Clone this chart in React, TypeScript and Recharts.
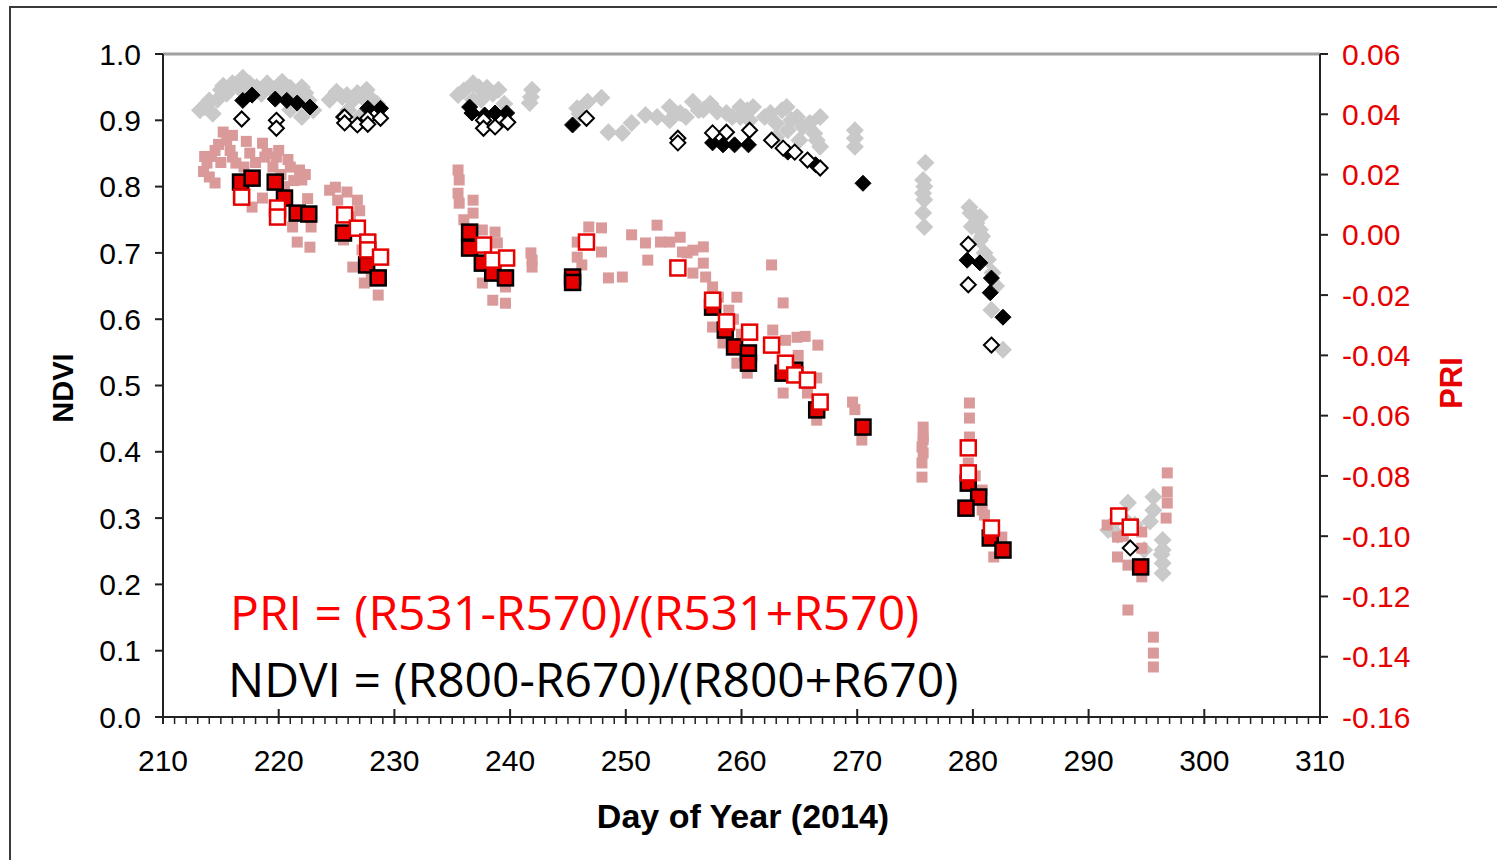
import React from 'react';
import { ScatterChart, Scatter, XAxis, YAxis, ReferenceLine } from 'recharts';

// [day of year, NDVI]
const ndviAll: [number, number][] = [
  [213.2, 0.915], [213.6, 0.92], [214.0, 0.93], [214.3, 0.91], [214.7, 0.931], [215.0, 0.946], [215.5, 0.94],
  [216.0, 0.956], [216.5, 0.95], [216.9, 0.964], [217.5, 0.955], [218.1, 0.95], [218.5, 0.94], [219.0, 0.956],
  [219.5, 0.945], [220.0, 0.953], [220.5, 0.94], [221.0, 0.949], [221.5, 0.935], [222.0, 0.95], [222.3, 0.941],
  [221.0, 0.916], [222.0, 0.905], [213.8, 0.925], [215.2, 0.952], [217.0, 0.945], [218.8, 0.948], [220.3, 0.958],
  [221.8, 0.945], [222.6, 0.93], [223.0, 0.915],
  [224.4, 0.931], [225.0, 0.943], [225.5, 0.935], [225.9, 0.938], [226.4, 0.93], [226.8, 0.941], [227.2, 0.935],
  [227.6, 0.946], [228.0, 0.932], [228.5, 0.925], [226.0, 0.915], [227.0, 0.905],
  [235.5, 0.938], [236.0, 0.945], [236.8, 0.956], [237.3, 0.95], [238.0, 0.949], [238.5, 0.94], [239.0, 0.946],
  [237.5, 0.931], [236.8, 0.931], [239.5, 0.925], [241.7, 0.926], [241.8, 0.935], [241.9, 0.946],
  [245.8, 0.918], [246.7, 0.928], [247.9, 0.934], [246.0, 0.91],
  [248.5, 0.882], [249.7, 0.881], [250.5, 0.896], [251.7, 0.908], [252.7, 0.905], [253.8, 0.92], [253.8, 0.9],
  [254.7, 0.911], [255.2, 0.905], [255.8, 0.928], [256.3, 0.915], [256.7, 0.916], [257.3, 0.925], [257.9, 0.913],
  [258.7, 0.911], [259.2, 0.905], [259.9, 0.92], [259.9, 0.905], [260.5, 0.915], [260.7, 0.9], [261.0, 0.92],
  [262.0, 0.905], [262.5, 0.911], [263.0, 0.895], [263.5, 0.915], [263.9, 0.92], [264.3, 0.9], [264.8, 0.905],
  [265.3, 0.89], [265.9, 0.896], [266.3, 0.88], [266.8, 0.905], [266.8, 0.86], [265.0, 0.87], [264.0, 0.885],
  [263.0, 0.875], [266.5, 0.87],
  [269.8, 0.885], [269.8, 0.873], [269.8, 0.86],
  [275.9, 0.836], [275.7, 0.81], [275.8, 0.8], [275.7, 0.79], [275.8, 0.78], [275.7, 0.76], [275.8, 0.739],
  [279.7, 0.769], [279.8, 0.76], [280.2, 0.755], [280.6, 0.754], [280.3, 0.745], [280.6, 0.735], [280.8, 0.725],
  [280.6, 0.719], [279.9, 0.74], [281.0, 0.7], [281.7, 0.67], [281.6, 0.614], [282.6, 0.554], [281.3, 0.69], [282.0, 0.65],
  [291.7, 0.282], [292.0, 0.29], [292.5, 0.275], [293.4, 0.323], [293.0, 0.3], [294.0, 0.29], [295.6, 0.332],
  [295.6, 0.312], [295.3, 0.295], [294.8, 0.252], [296.4, 0.267], [296.4, 0.252], [296.4, 0.232], [296.4, 0.217], [296.3, 0.245],
];

const ndviFilled: [number, number][] = [
  [216.9, 0.93], [217.7, 0.938], [219.7, 0.932], [220.7, 0.93], [221.6, 0.926], [222.7, 0.92], [225.6, 0.905],
  [227.7, 0.918], [228.8, 0.918], [236.5, 0.92], [236.7, 0.911], [237.8, 0.908], [238.7, 0.911], [239.7, 0.911],
  [245.4, 0.893], [257.5, 0.866], [258.4, 0.863], [259.4, 0.863], [260.6, 0.863], [264.0, 0.852], [266.4, 0.833],
  [270.5, 0.805], [279.5, 0.689], [280.6, 0.685], [281.6, 0.662], [281.5, 0.64], [282.6, 0.603],
];

const ndviOpen: [number, number][] = [
  [216.8, 0.902], [219.8, 0.9], [219.8, 0.888], [225.7, 0.905], [225.7, 0.896], [226.8, 0.893], [227.7, 0.903],
  [227.7, 0.894], [228.8, 0.903], [237.7, 0.9], [237.7, 0.888], [238.7, 0.89], [239.8, 0.897], [246.6, 0.903],
  [254.5, 0.873], [254.5, 0.866], [257.5, 0.881], [258.7, 0.882], [260.7, 0.885], [262.6, 0.87], [263.6, 0.858],
  [264.6, 0.852], [265.7, 0.84], [266.8, 0.828], [279.6, 0.713], [279.6, 0.652], [281.6, 0.561], [293.6, 0.255],
];

// [day of year, PRI]
const priAll: [number, number][] = [
  [213.5, 0.021], [213.8, 0.0238], [214.0, 0.0192], [214.5, 0.0172], [214.2, 0.026], [214.8, 0.03], [215.2, 0.0341],
  [215.5, 0.0314], [215.8, 0.028], [216.0, 0.0258], [216.3, 0.0238], [216.5, 0.0122], [217.0, 0.0225], [217.5, 0.0271],
  [217.7, 0.0092], [218.0, 0.024], [218.6, 0.0304], [218.8, 0.0258], [218.6, 0.0122], [219.5, 0.0225], [219.8, 0.0258],
  [220.2, 0.02], [221.0, 0.0225], [221.3, 0.018], [221.8, 0.0215], [222.0, 0.0182], [221.2, 0.0026], [221.6, -0.0024],
  [222.7, -0.0041], [222.8, 0.0026], [220.5, 0.016], [213.6, 0.026], [214.5, 0.028], [215.0, 0.024], [216.0, 0.033],
  [217.2, 0.031], [219.0, 0.027], [220.0, 0.028], [220.8, 0.025], [222.5, 0.012], [222.3, 0.02], [217.0, 0.016],
  [224.4, 0.0148], [224.9, 0.0158], [225.9, 0.0142], [226.8, 0.0115], [225.1, 0.0115], [225.6, -0.0017], [226.2, 0.006],
  [226.4, -0.0107], [227.2, -0.005], [227.4, -0.016], [228.0, -0.0134], [228.6, -0.02], [227.0, 0.008],
  [235.5, 0.0215], [235.6, 0.0182], [235.5, 0.0138], [235.6, 0.0105], [236.8, 0.0115], [236.8, 0.0072], [237.6, 0.0016],
  [238.7, 0.0009], [238.9, -0.0027], [237.6, -0.0084], [237.6, -0.016], [238.5, -0.0217], [239.6, -0.0227], [239.6, -0.0173],
  [236.0, 0.005], [241.9, -0.0084], [241.9, -0.0107], [241.8, -0.006],
  [245.8, -0.0024], [245.8, -0.0074], [246.8, 0.0026], [247.9, 0.0023], [247.9, -0.0057], [248.5, -0.0143], [249.7, -0.014], [246.2, -0.01],
  [250.5, 0.0], [251.7, -0.0027], [251.9, -0.0084], [252.7, 0.0032], [253.0, -0.0024], [253.8, -0.0024], [254.7, -0.0008],
  [254.9, -0.0057], [255.3, -0.006], [255.8, -0.0051], [256.7, -0.004], [256.7, -0.0094], [255.8, -0.0127], [256.9, -0.014],
  [257.5, -0.0173], [258.0, -0.0207], [257.5, -0.0306], [258.4, -0.0359], [259.6, -0.0207], [259.3, -0.028], [259.6, -0.0426],
  [260.5, -0.0459], [258.9, -0.025], [260.0, -0.033],
  [262.6, -0.01], [263.6, -0.0226], [262.7, -0.0316], [263.8, -0.035], [264.8, -0.034], [265.5, -0.0337], [266.6, -0.0366],
  [263.6, -0.0525], [264.5, -0.046], [265.7, -0.0525], [266.5, -0.0475], [266.5, -0.0615], [264.9, -0.04],
  [269.6, -0.0555], [269.8, -0.058], [270.4, -0.0681],
  [275.7, -0.0638], [275.7, -0.067], [275.6, -0.0704], [275.7, -0.0724], [275.6, -0.0757], [275.6, -0.0804], [275.7, -0.068],
  [279.7, -0.0558], [279.7, -0.0608], [279.7, -0.0671], [279.6, -0.0757], [280.8, -0.0847], [280.8, -0.0913],
  [282.5, -0.1003], [281.8, -0.1069], [281.0, -0.093], [280.2, -0.08],
  [291.6, -0.0963], [292.5, -0.1003], [292.5, -0.1069], [293.4, -0.1096], [294.6, -0.0986], [294.6, -0.104], [294.6, -0.1135],
  [293.4, -0.1245], [295.6, -0.1335], [295.6, -0.1388], [295.6, -0.1434], [296.8, -0.079], [296.8, -0.0853], [296.7, -0.094],
  [296.8, -0.089], [293.0, -0.1],
];

const priFilled: [number, number][] = [
  [216.7, 0.0175], [217.7, 0.0188], [219.7, 0.0175], [220.5, 0.0122], [221.6, 0.0072], [222.6, 0.0069], [225.6, 0.0006],
  [227.6, -0.01], [228.6, -0.0143], [236.5, 0.0009], [236.5, -0.0044], [237.6, -0.0094], [238.5, -0.0127], [239.6, -0.0143],
  [245.4, -0.014], [245.4, -0.0158], [257.5, -0.024], [258.6, -0.0316], [259.4, -0.0372], [260.6, -0.0392], [260.6, -0.0426],
  [263.6, -0.0459], [264.6, -0.0449], [266.5, -0.0581], [270.5, -0.0638], [279.6, -0.0824], [280.5, -0.087], [279.4, -0.0907],
  [281.5, -0.1006], [282.6, -0.1046], [294.5, -0.1102],
];

const priOpen: [number, number][] = [
  [216.8, 0.0125], [219.9, 0.0089], [219.9, 0.0059], [225.7, 0.0066], [226.8, 0.0022], [227.7, -0.0024], [227.7, -0.005],
  [228.8, -0.0074], [237.7, -0.0034], [238.5, -0.0084], [239.7, -0.0077], [246.6, -0.0024], [254.5, -0.011], [257.5, -0.0217],
  [258.7, -0.0289], [260.7, -0.0323], [262.6, -0.0366], [263.8, -0.0426], [264.6, -0.0465], [265.7, -0.0482], [266.8, -0.0555],
  [279.6, -0.0707], [279.6, -0.079], [281.6, -0.0973], [292.6, -0.0933], [293.6, -0.097],
];

const xAll = Array.from({ length: 101 }, (_, i) => 210 + i);
const ndviTicks = [0, 0.1, 0.2, 0.3, 0.4, 0.5, 0.6, 0.7, 0.8, 0.9, 1.0];
const priTicks = [-0.16, -0.14, -0.12, -0.1, -0.08, -0.06, -0.04, -0.02, 0, 0.02, 0.04, 0.06];

const toPts = (arr: [number, number][]) => arr.map(([x, y]) => ({ x, y }));

const FONT = '"Liberation Sans", Arial, sans-serif';

const diamond = (fill: string, stroke: string, r: number, sw: number) => (p: any) => (
  <polygon
    points={`${p.cx},${p.cy - r} ${p.cx + r},${p.cy} ${p.cx},${p.cy + r} ${p.cx - r},${p.cy}`}
    fill={fill}
    stroke={stroke}
    strokeWidth={sw}
  />
);

const square = (fill: string, stroke: string, s: number, sw: number) => (p: any) => (
  <rect x={p.cx - s / 2} y={p.cy - s / 2} width={s} height={s} fill={fill} stroke={stroke} strokeWidth={sw} />
);

const XTick = (props: any) => {
  const { x, y, payload } = props;
  const v = payload.value;
  const major = v % 10 === 0;
  return (
    <g>
      <line x1={x} x2={x} y1={major ? y - 8 : y} y2={y + 7} stroke="#222" strokeWidth={major ? 2 : 1.5} />
      {major && (
        <text x={x} y={y + 54} textAnchor="middle" fontFamily={FONT} fontSize={30} fill="#000">
          {v}
        </text>
      )}
    </g>
  );
};

export default function App() {
  return (
    <div style={{ position: 'absolute', left: 0, top: 0, width: 1497, height: 860, overflow: 'hidden', background: '#fff' }}>
      <div style={{ position: 'absolute', left: 9, top: 6, width: 1600, height: 1000, border: '2px solid #3a3a3a' }} />
      <ScatterChart width={1497} height={860} margin={{ top: 54, right: 57, bottom: 63, left: 63 }}>
        <XAxis
          type="number"
          dataKey="x"
          domain={[210, 310]}
          ticks={xAll}
          interval={0}
          tickSize={0}
          tickMargin={0}
          tickLine={false}
          height={80}
          tick={<XTick />}
          axisLine={{ stroke: '#222', strokeWidth: 2 }}
          allowDataOverflow
        />
        <YAxis
          yAxisId="ndvi"
          type="number"
          dataKey="y"
          domain={[0, 1]}
          ticks={ndviTicks}
          interval={0}
          width={100}
          tickSize={8}
          tickMargin={14}
          tickFormatter={(v: number) => v.toFixed(1)}
          tick={{ fontFamily: FONT, fontSize: 30, fill: '#000' }}
          tickLine={{ stroke: '#222', strokeWidth: 2 }}
          axisLine={{ stroke: '#222', strokeWidth: 2 }}
          allowDataOverflow
        />
        <YAxis
          yAxisId="pri"
          orientation="right"
          type="number"
          dataKey="y"
          domain={[-0.16, 0.06]}
          ticks={priTicks}
          interval={0}
          width={120}
          tickSize={8}
          tickMargin={14}
          tickFormatter={(v: number) => v.toFixed(2)}
          tick={{ fontFamily: FONT, fontSize: 30, fill: '#e60000' }}
          tickLine={{ stroke: '#222', strokeWidth: 2 }}
          axisLine={{ stroke: '#222', strokeWidth: 2 }}
          allowDataOverflow
        />
        <ReferenceLine yAxisId="ndvi" y={1} stroke="#a0a0a0" strokeWidth={3} />
        <Scatter yAxisId="ndvi" data={toPts(ndviAll)} shape={diamond('#c9c9c9', 'none', 9, 0)} isAnimationActive={false} />
        <Scatter yAxisId="pri" data={toPts(priAll)} shape={square('#da9a9a', 'none', 11, 0)} isAnimationActive={false} />
        <Scatter yAxisId="ndvi" data={toPts(ndviFilled)} shape={diamond('#000', '#000', 8, 1)} isAnimationActive={false} />
        <Scatter yAxisId="ndvi" data={toPts(ndviOpen)} shape={diamond('#fff', '#000', 7.5, 2)} isAnimationActive={false} />
        <Scatter yAxisId="pri" data={toPts(priFilled)} shape={square('#e60000', '#000', 15, 2.5)} isAnimationActive={false} />
        <Scatter yAxisId="pri" data={toPts(priOpen)} shape={square('#fff', '#e60000', 15, 2.5)} isAnimationActive={false} />
      </ScatterChart>
      <svg width={1497} height={860} style={{ position: 'absolute', left: 0, top: 0, pointerEvents: 'none' }}>
        <text x={0} y={0} transform="translate(73,388) rotate(-90)" textAnchor="middle" fontFamily={FONT} fontWeight="bold" fontSize={29} fill="#000">
          NDVI
        </text>
        <text x={0} y={0} transform="translate(1462,383) rotate(-90)" textAnchor="middle" fontFamily={FONT} fontWeight="bold" fontSize={31} fill="#e60000">
          PRI
        </text>
        <text x={743} y={828} textAnchor="middle" fontFamily={FONT} fontWeight="bold" fontSize={34} fill="#000">
          Day of Year (2014)
        </text>
        <text x={230} y={630} fontFamily='"Open Sans", sans-serif' fontSize={48} fill="#ff0000">
          PRI = (R531-R570)/(R531+R570)
        </text>
        <text x={228} y={697} fontFamily='"Open Sans", sans-serif' fontSize={48} fill="#000">
          NDVI = (R800-R670)/(R800+R670)
        </text>
      </svg>
    </div>
  );
}
